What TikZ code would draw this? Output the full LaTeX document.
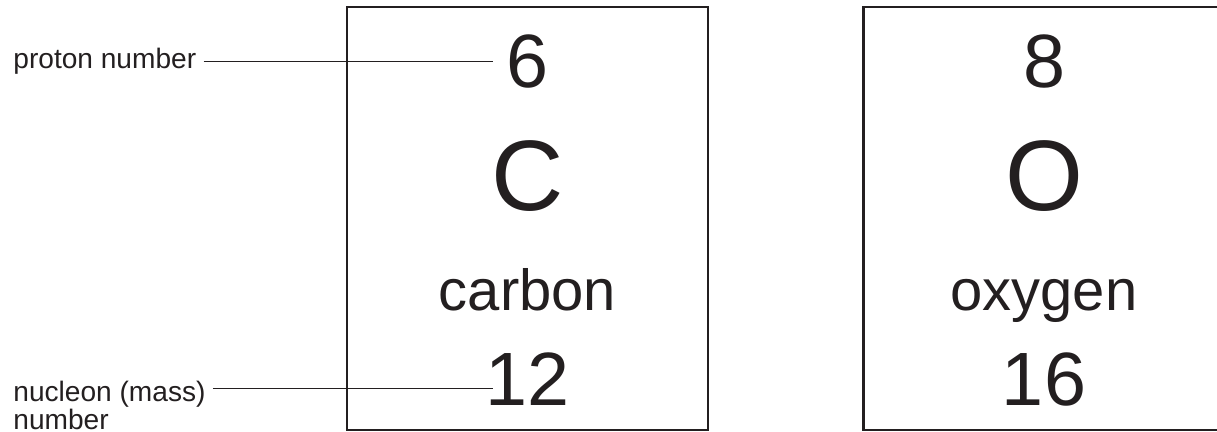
\documentclass[tikz,border=0pt]{standalone}
\usepackage{fontspec}
\setmainfont{Liberation Sans}
\usetikzlibrary{positioning}
\definecolor{ink}{HTML}{231F20}

\begin{document}
\begin{tikzpicture}[
    x=0.02cm, y=-0.02cm,
    cell/.style={rectangle, draw=ink, line width=1.3pt, minimum width=7.22cm, minimum height=8.46cm, inner sep=0pt},
    num/.style={anchor=base, inner sep=0pt, text=ink, font=\fontsize{43}{43}\selectfont},
    sym/.style={anchor=base, inner sep=0pt, text=ink, font=\fontsize{57}{57}\selectfont},
    elname/.style={anchor=base, inner sep=0pt, text=ink, font=\fontsize{33}{33}\selectfont},
    tag/.style={anchor=base west, inner sep=4pt, text=ink, font=\fontsize{16}{17}\selectfont},
    lead/.style={draw=ink, line width=0.8pt}
]
\useasboundingbox (0,0) rectangle (1217,432);

\node (carbon) [cell] at (527.5,218.5) {};
\node (oxygen) [cell] at (1044,218.5) {};

\node (cnum) [num] at (527.5,88) {6};
\node (csym) [sym] at (527.5,211) {C};
\node (cname) [elname] at (527.5,310) {carbon};
\node (cmass) [num] at (527.5,405) {12};

\node (onum) [num] at (1044,88) {8};
\node (osym) [sym] at (1044,211) {O};
\node (oname) [elname] at (1044,310) {oxygen};
\node (omass) [num] at (1044,405) {16};

\node (proton) [tag] at (6,69) {proton number};
\node (nucleon) [tag] at (6,401) {nucleon (mass)};
\node (nucleonb) [tag, inner ysep=0pt] at (6,429) {number};

\draw [lead] (proton.east) -- ([xshift=0.16cm]cmass.west |- proton.east);
\draw [lead] ([yshift=0.1cm]nucleon.east) -- ([xshift=0.16cm, yshift=0.1cm]cmass.west |- nucleon.east);

\end{tikzpicture}
\end{document}
